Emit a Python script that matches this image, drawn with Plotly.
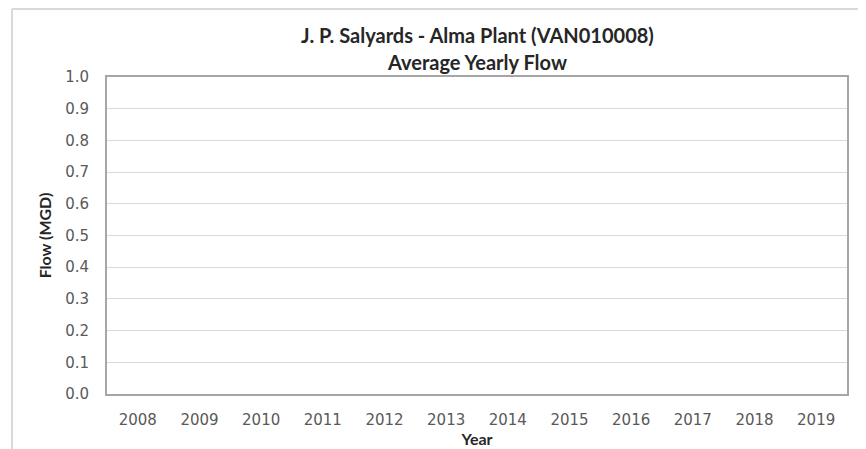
import plotly.graph_objects as go

years = ["2008", "2009", "2010", "2011", "2012", "2013", "2014", "2015", "2016", "2017", "2018", "2019"]
flow_mgd = [None, None, None, None, None, None, None, None, None, None, None, None]
y_ticks = [0.0, 0.1, 0.2, 0.3, 0.4, 0.5, 0.6, 0.7, 0.8, 0.9, 1.0]

# page body has an 8px margin, so the figure is placed at (8, 8) in the window
OFF = 8
W, H = 866 - OFF, 449 - OFF
L, T = 107 - OFF, 77 - OFF
R, B = 19, 55
pw, ph = W - L - R, H - T - B

def px(x):
    return (x - OFF - L) / pw

def py(y):
    return (H - B - (y - OFF)) / ph

fig = go.Figure()
fig.add_trace(go.Bar(x=years, y=flow_mgd, marker_color="#4472c4", showlegend=False))

tick_font = dict(family="DejaVu Sans", size=15, color="#595959")
title_font = dict(family="Lato", size=16, color="#262626", weight="bold")
head_font = dict(family="Lato", size=20, color="#262626", weight="bold")

fig.update_layout(
    width=W, height=H,
    margin=dict(l=L, r=R, t=T, b=B),
    paper_bgcolor="white", plot_bgcolor="white",
    xaxis=dict(
        type="category", categoryorder="array", categoryarray=years,
        range=[-0.5, 11.5], automargin=False,
        showline=True, mirror=True, linecolor="#a6a6a6", linewidth=2,
        showgrid=False, ticks="", tickfont=tick_font, ticklabelstandoff=11,
        title=dict(text="Year", font=title_font, standoff=4),
    ),
    yaxis=dict(
        range=[0, 1], tickvals=y_ticks, tickformat=".1f", automargin=False,
        showline=True, mirror=True, linecolor="#a6a6a6", linewidth=2,
        showgrid=True, gridcolor="#d9d9d9", gridwidth=1, zeroline=False,
        ticks="", tickfont=tick_font, ticklabelstandoff=13,
        title=dict(text="Flow (MGD)", font=title_font, standoff=10),
    ),
    annotations=[
        dict(text="J. P. Salyards - Alma Plant (VAN010008)", xref="paper", yref="paper",
             x=px(477), y=py(35), xanchor="center", yanchor="middle", showarrow=False, font=head_font),
        dict(text="Average Yearly Flow", xref="paper", yref="paper",
             x=px(477), y=py(62), xanchor="center", yanchor="middle", showarrow=False, font=head_font),
    ],
    shapes=[
        dict(type="line", xref="paper", yref="paper", x0=px(12), x1=px(866), y0=py(9), y1=py(9),
             line=dict(color="#d9d9d9", width=2)),
        dict(type="line", xref="paper", yref="paper", x0=px(12), x1=px(12), y0=py(9), y1=py(449),
             line=dict(color="#d9d9d9", width=2)),
    ],
)

fig.write_html("out.html")
